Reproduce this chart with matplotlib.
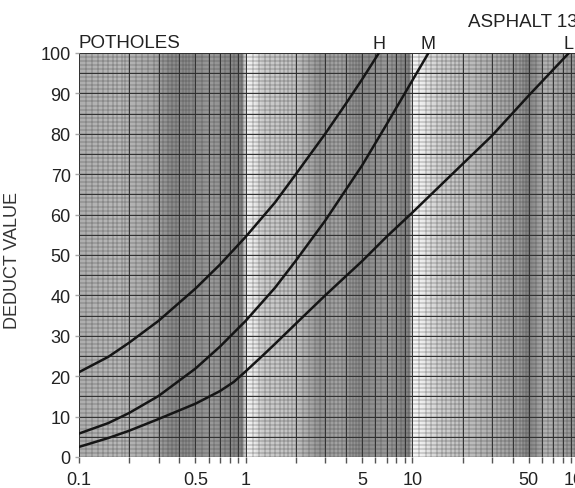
import numpy as np
import matplotlib
matplotlib.use('Agg')
import matplotlib.pyplot as plt
from matplotlib.ticker import FixedLocator, NullLocator


# curves (area % -> deduct value)
h_x = [0.1, 0.15, 0.2, 0.3, 0.5, 0.7, 1, 1.5, 2, 3, 4, 5, 6.3]
h_y = [21, 24.8, 28.3, 33.7, 41.7, 47.6, 54.5, 63, 70, 80, 87.5, 93.5, 100]

m_x = [0.1, 0.15, 0.2, 0.3, 0.5, 0.7, 1, 1.5, 2, 3, 5, 7, 10, 12.5]
m_y = [5.8, 8.4, 10.9, 15.1, 21.9, 27.3, 33.7, 41.9, 48.6, 58.5, 72.2, 82.3, 93.2, 100]

l_x = [0.1, 0.15, 0.2, 0.3, 0.5, 0.7, 0.85, 1, 1.25, 1.5, 2, 3, 5, 7, 10, 20, 30, 50, 87]
l_y = [2.5, 4.7, 6.5, 9.4, 13.2, 16.3, 18.6, 21.2, 24.9, 28, 33, 40, 48.5, 54.5, 60.5,
       72.5, 79.5, 89.5, 100]

curve_names = ['H', 'M', 'L']
x_label_vals = [0.1, 0.5, 1, 5, 10, 50, 100]
x_labels = ['0.1', '0.5', '1', '5', '10', '50', '100']
y_ticks = list(range(0, 101, 10))

plt.rcParams['font.family'] = ['Liberation Sans', 'DejaVu Sans']

W, H = 575, 489
fig = plt.figure(figsize=(W / 100, H / 100), dpi=100)
fig.patch.set_facecolor('white')
ax = fig.add_axes([79 / W, 1 - 458 / H, 500 / W, 404 / H])

ax.set_xscale('log')
ax.set_xlim(0.1, 100)
ax.set_ylim(0, 100)

# scanned graph paper: grey tone that varies across the sheet (log10 x -> brightness)
tone_pos = [-1, -0.9, -0.75, -0.55, -0.45, -0.3, -0.2, -0.1, -0.02, 0.0, 0.05, 0.1,
            0.3, 0.45, 0.55, 0.7, 0.85, 0.98, 1.0, 1.05, 1.15, 1.3, 1.5, 1.65, 1.7,
            1.8, 1.9, 2.0]
tone_val = [0.68, 0.7, 0.72, 0.66, 0.54, 0.55, 0.6, 0.54, 0.5, 0.95, 0.92, 0.8,
            0.76, 0.58, 0.64, 0.54, 0.6, 0.5, 0.96, 0.94, 0.82, 0.76, 0.68, 0.6, 0.5,
            0.7, 0.64, 0.56]
edges = np.linspace(-1, 2, 601)
centers = (edges[:-1] + edges[1:]) / 2
tone = np.interp(centers, tone_pos, tone_val)
ax.pcolormesh(10 ** edges, [0, 100], tone[np.newaxis, :], cmap='gray',
              vmin=0, vmax=1, shading='flat', zorder=0)

# fine log grid
fine = []
for dec in [0.1, 1, 10]:
    fine += list(np.arange(1, 2, 0.1) * dec)
    fine += list(np.arange(2, 5, 0.2) * dec)
    fine += list(np.arange(5, 10, 0.5) * dec)
major = []
for dec in [0.1, 1, 10]:
    major += [k * dec for k in range(1, 10)]
major.append(100)

ax.vlines(fine, 0, 100, color='#404040', lw=0.35, alpha=0.8, zorder=1)
ax.vlines(major, 0, 100, color='#303030', lw=0.7, zorder=1)
ax.hlines(np.arange(0, 101, 1), 0.1, 100, color='#404040', lw=0.35, alpha=0.8, zorder=1)
ax.hlines(np.arange(0, 101, 5), 0.1, 100, color='#303030', lw=0.7, zorder=1)

for cx, cy, name in zip([h_x, m_x, l_x], [h_y, m_y, l_y], curve_names):
    ax.plot(cx, cy, color='#151515', lw=1.8, zorder=3,
            solid_joinstyle='round', solid_capstyle='round')
    ax.text(cx[-1], cy[-1] + 1.2, name, ha='center', va='baseline', fontsize=13,
            color='#222222', clip_on=False)

ax.xaxis.set_major_locator(FixedLocator(major))
ax.set_xticklabels([x_labels[x_label_vals.index(round(v, 3))]
                    if round(v, 3) in x_label_vals else '' for v in major])
ax.xaxis.set_minor_locator(NullLocator())
ax.set_yticks(y_ticks)
ax.tick_params(axis='x', length=4, width=1, color='#555555', labelsize=13,
               pad=6, labelcolor='#222222')
ax.tick_params(axis='y', length=3, width=1, color='#aaaaaa', labelsize=13,
               pad=3, labelcolor='#222222')
for s in ax.spines.values():
    s.set_visible(False)

ax.set_ylabel('DEDUCT VALUE', fontsize=13, color='#333333')
ax.yaxis.set_label_coords(-0.116, 0.49)

fig.text(79 / W, 1 - 48 / H, 'POTHOLES', fontsize=13.5, color='#222222',
         va='baseline', ha='left')
fig.text(468 / W, 1 - 27 / H, 'ASPHALT 13', fontsize=13.5, color='#222222',
         va='baseline', ha='left')

fig.savefig('out.png', dpi=100)
